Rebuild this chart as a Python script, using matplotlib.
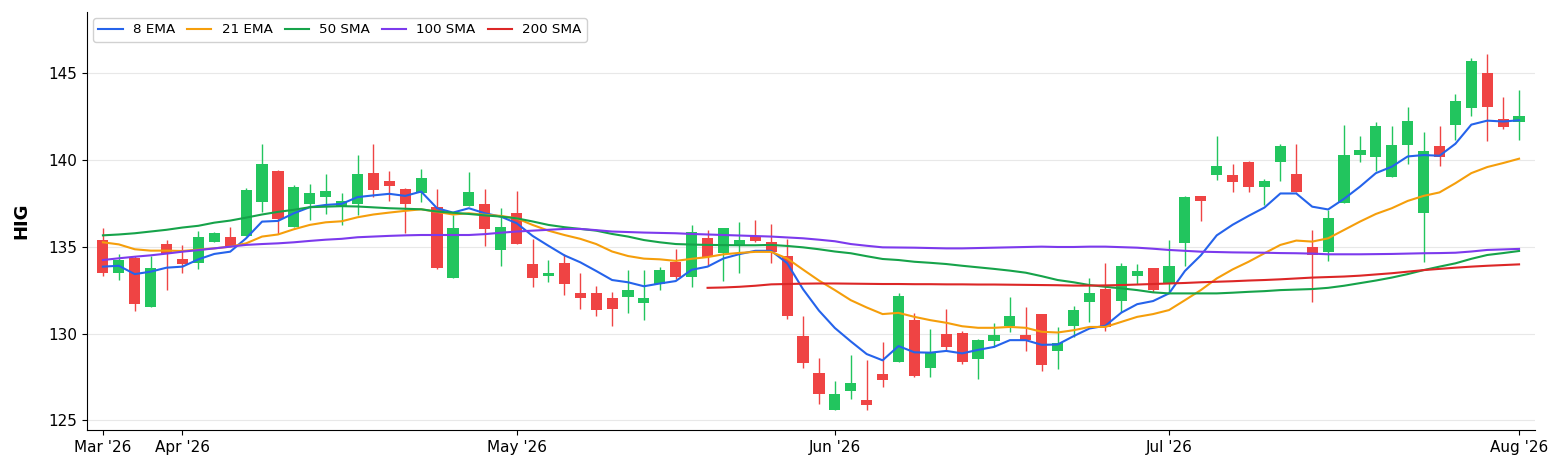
import pandas as pd
import matplotlib
matplotlib.use("Agg")
import matplotlib.pyplot as plt

ticker = "HIG"

opens = [135.38, 133.46, 134.33, 131.50, 135.13, 134.27, 134.04, 135.29, 135.54, 135.62,
         137.56, 139.37, 136.15, 137.44, 137.88, 137.35, 137.44, 139.23, 138.79, 138.30,
         138.08, 137.27, 133.17, 137.31, 137.44, 134.81, 136.92, 133.98, 133.31, 134.04,
         132.31, 132.31, 132.02, 132.08, 131.73, 132.85, 134.13, 133.23, 135.48, 134.62,
         135.10, 135.63, 135.29, 134.48, 129.85, 127.75, 125.58, 126.67, 126.19, 127.69,
         128.37, 130.77, 128.04, 129.96, 130.06, 128.56, 129.58, 130.44, 129.90, 131.10,
         129.00, 130.44, 131.83, 132.54, 131.88, 133.33, 133.75, 132.88, 135.19, 137.92,
         139.10, 139.10, 139.87, 138.46, 139.87, 139.19, 134.96, 134.71, 137.50, 140.25,
         140.15, 139.00, 140.83, 136.92, 140.81, 141.98, 142.98, 145.00, 142.35, 142.17]
highs = [136.06, 134.58, 134.46, 134.46, 135.38, 135.10, 135.92, 135.83, 136.15, 138.40,
         140.90, 139.42, 138.56, 138.60, 139.19, 138.10, 140.29, 140.92, 139.33, 138.37,
         139.48, 138.33, 136.83, 139.27, 138.33, 137.21, 138.23, 135.44, 134.23, 134.58,
         133.50, 132.73, 132.40, 133.65, 133.65, 133.85, 134.87, 136.25, 135.96, 136.06,
         136.44, 136.54, 136.29, 135.42, 131.00, 128.60, 127.25, 128.79, 128.50, 129.52,
         132.35, 131.21, 130.29, 131.44, 130.13, 129.67, 130.62, 132.08, 131.54, 131.10,
         130.38, 131.60, 133.17, 134.08, 134.04, 134.00, 133.75, 135.38, 137.92, 137.92,
         141.35, 139.77, 139.94, 138.88, 140.90, 140.90, 135.96, 137.08, 142.02, 141.35,
         142.15, 141.96, 143.02, 141.58, 141.92, 143.79, 145.83, 146.10, 143.60, 144.00]
lows = [133.30, 133.10, 131.31, 131.50, 132.50, 133.50, 133.70, 135.29, 135.06, 135.62,
        137.00, 135.71, 136.15, 136.54, 136.90, 136.25, 136.83, 137.88, 137.60, 135.81,
        137.54, 133.71, 133.17, 137.31, 135.04, 133.90, 135.13, 132.69, 132.98, 132.21,
        131.44, 131.00, 130.42, 131.19, 130.80, 132.50, 133.12, 132.69, 133.88, 133.04,
        133.50, 135.29, 134.04, 130.81, 128.04, 125.96, 125.58, 126.21, 125.58, 126.92,
        128.37, 127.50, 127.50, 129.08, 128.23, 127.37, 129.23, 130.10, 128.98, 127.83,
        127.94, 129.81, 130.67, 130.15, 131.25, 132.85, 132.40, 132.40, 133.88, 136.48,
        138.85, 138.12, 138.17, 137.40, 138.75, 138.13, 131.83, 134.19, 137.50, 139.85,
        139.33, 139.00, 139.77, 134.13, 139.65, 141.15, 142.50, 141.06, 141.77, 141.12]
closes = [133.46, 134.23, 131.69, 133.80, 134.58, 133.98, 135.54, 135.77, 135.06, 138.27,
          139.77, 136.58, 138.42, 138.08, 138.21, 137.63, 139.17, 138.27, 138.50, 137.44,
          138.94, 133.79, 136.06, 138.13, 136.00, 136.15, 135.13, 133.17, 133.50, 132.83,
          132.02, 131.38, 131.44, 132.50, 132.02, 133.65, 133.27, 135.87, 134.42, 136.06,
          135.38, 135.35, 134.71, 131.02, 128.31, 126.54, 126.54, 127.17, 125.90, 127.31,
          132.15, 127.56, 128.90, 129.23, 128.37, 129.62, 129.90, 131.00, 129.62, 128.21,
          129.46, 131.35, 132.31, 130.38, 133.88, 133.62, 132.50, 133.88, 137.85, 137.63,
          139.62, 138.71, 138.46, 138.79, 140.81, 138.13, 134.52, 136.63, 140.29, 140.58,
          141.96, 140.87, 142.21, 140.52, 140.15, 143.40, 145.71, 143.04, 141.88, 142.54]

ema8 = [133.85, 133.90, 133.42, 133.56, 133.79, 133.85, 134.27, 134.58, 134.71, 135.48,
        136.44, 136.48, 136.92, 137.27, 137.40, 137.46, 137.85, 137.95, 138.04, 137.92,
        138.17, 137.21, 136.96, 137.21, 136.92, 136.73, 136.35, 135.62, 135.05, 134.50,
        134.10, 133.60, 133.08, 132.95, 132.72, 132.88, 133.02, 133.67, 133.85, 134.32,
        134.57, 134.76, 134.76, 134.05, 132.55, 131.32, 130.32, 129.55, 128.82, 128.46,
        129.28, 128.92, 128.90, 129.00, 128.86, 129.06, 129.23, 129.62, 129.62, 129.35,
        129.37, 129.85, 130.29, 130.45, 131.20, 131.69, 131.87, 132.31, 133.60, 134.50,
        135.65, 136.26, 136.77, 137.25, 138.06, 138.06, 137.30, 137.14, 137.75, 138.45,
        139.23, 139.60, 140.19, 140.27, 140.23, 140.92, 142.02, 142.25, 142.20, 142.27]
ema21 = [135.25, 135.13, 134.85, 134.77, 134.77, 134.75, 134.83, 134.90, 135.00, 135.19,
         135.58, 135.70, 136.00, 136.25, 136.40, 136.46, 136.69, 136.85, 136.96, 137.06,
         137.15, 137.00, 136.85, 136.92, 136.83, 136.77, 136.63, 136.25, 135.92, 135.67,
         135.45, 135.15, 134.72, 134.46, 134.31, 134.27, 134.18, 134.30, 134.40, 134.56,
         134.64, 134.70, 134.70, 134.32, 133.68, 133.05, 132.50, 131.92, 131.50, 131.12,
         131.19, 130.96, 130.77, 130.62, 130.42, 130.33, 130.33, 130.38, 130.33, 130.10,
         130.06, 130.19, 130.38, 130.38, 130.67, 130.96, 131.12, 131.35, 131.92, 132.50,
         133.17, 133.69, 134.13, 134.62, 135.10, 135.35, 135.29, 135.48, 135.96, 136.44,
         136.88, 137.21, 137.63, 137.92, 138.12, 138.65, 139.23, 139.58, 139.81, 140.06]
sma50 = [135.65, 135.70, 135.77, 135.87, 135.97, 136.10, 136.20, 136.38, 136.50, 136.67,
         136.85, 137.00, 137.12, 137.27, 137.30, 137.33, 137.31, 137.26, 137.21, 137.18,
         137.15, 137.02, 136.95, 136.88, 136.80, 136.73, 136.63, 136.45, 136.25, 136.12,
         136.02, 135.92, 135.73, 135.58, 135.38, 135.25, 135.15, 135.12, 135.10, 135.09,
         135.08, 135.08, 135.10, 135.04, 134.96, 134.85, 134.72, 134.62, 134.45, 134.29,
         134.23, 134.13, 134.07, 134.00, 133.90, 133.81, 133.72, 133.62, 133.50, 133.30,
         133.08, 132.95, 132.79, 132.69, 132.60, 132.50, 132.37, 132.31, 132.31, 132.31,
         132.31, 132.35, 132.40, 132.44, 132.50, 132.53, 132.56, 132.63, 132.75, 132.90,
         133.05, 133.22, 133.42, 133.65, 133.85, 134.04, 134.30, 134.52, 134.63, 134.75]
sma100 = [134.23, 134.33, 134.42, 134.50, 134.60, 134.71, 134.80, 134.90, 135.00, 135.10,
          135.15, 135.19, 135.25, 135.33, 135.40, 135.45, 135.54, 135.58, 135.62, 135.65,
          135.67, 135.67, 135.67, 135.67, 135.72, 135.80, 135.87, 135.92, 135.97, 136.02,
          136.02, 135.95, 135.87, 135.84, 135.81, 135.79, 135.77, 135.73, 135.70, 135.67,
          135.64, 135.61, 135.58, 135.53, 135.48, 135.40, 135.31, 135.15, 135.05, 134.96,
          134.95, 134.94, 134.92, 134.90, 134.90, 134.92, 134.94, 134.96, 134.98, 135.00,
          134.98, 134.98, 135.00, 135.00, 134.97, 134.94, 134.88, 134.81, 134.76, 134.71,
          134.69, 134.67, 134.66, 134.65, 134.63, 134.62, 134.60, 134.56, 134.56, 134.56,
          134.57, 134.58, 134.60, 134.62, 134.63, 134.65, 134.72, 134.81, 134.84, 134.87]
sma200 = [None] * 38 + [
          132.63, 132.65, 132.69, 132.75, 132.83, 132.85, 132.87, 132.88, 132.88, 132.87,
          132.86, 132.85, 132.85, 132.84, 132.84, 132.83, 132.83, 132.82, 132.82, 132.81,
          132.80, 132.79, 132.78, 132.76, 132.76, 132.77, 132.79, 132.82, 132.85, 132.88,
          132.91, 132.95, 132.98, 133.01, 133.05, 133.08, 133.12, 133.17, 133.22, 133.25,
          133.28, 133.33, 133.40, 133.47, 133.56, 133.65, 133.72, 133.79, 133.85, 133.90,
          133.94, 133.98]

holidays = ["2026-04-03", "2026-05-25", "2026-06-19", "2026-07-03"]
dates = pd.bdate_range("2026-03-25", periods=len(closes), freq="C", holidays=holidays)

df = pd.DataFrame({"open": opens, "high": highs, "low": lows, "close": closes,
                   "ema8": ema8, "ema21": ema21, "sma50": sma50, "sma100": sma100,
                   "sma200": pd.array(sma200, dtype="Float64")}, index=dates)
df["sma200"] = df["sma200"].astype(float)
x = list(range(len(df)))

up_col = "#22c55e"
down_col = "#ef4444"
colors = [up_col if c >= o else down_col for o, c in zip(df["open"], df["close"])]

fig = plt.figure(figsize=(15.62, 4.73), dpi=100)
ax = fig.add_axes([0.0557, 0.0909, 0.927, 0.8837])

# wicks then bodies
ax.vlines(x, df["low"], df["high"], colors=colors, linewidth=1.0, zorder=2)
bottoms = [min(o, c) for o, c in zip(df["open"], df["close"])]
heights = [max(abs(c - o), 0.06) for o, c in zip(df["open"], df["close"])]
ax.bar(x, heights, bottom=bottoms, width=0.7, color=colors, zorder=3)

lines = [("ema8", "8 EMA", "#2563eb"), ("ema21", "21 EMA", "#f59e0b"),
         ("sma50", "50 SMA", "#16a34a"), ("sma100", "100 SMA", "#7c3aed"),
         ("sma200", "200 SMA", "#dc2626")]
for col, label, c in lines:
    ax.plot(x, df[col], color=c, linewidth=1.5, label=label, zorder=4)

ax.set_xlim(-1, len(df))
ax.set_ylim(124.45, 148.5)
ax.set_yticks([125, 130, 135, 140, 145])
ax.grid(axis="y", color="#e8e8e8", linewidth=0.8)
ax.set_axisbelow(True)

months = df.index.to_period("M")
tick_pos = [i for i in x if i == 0 or months[i] != months[i - 1]]
ax.set_xticks(tick_pos)
ax.set_xticklabels([df.index[i].strftime("%b '%y") for i in tick_pos])
ax.tick_params(labelsize=11)

ax.spines["top"].set_visible(False)
ax.spines["right"].set_visible(False)
ax.set_ylabel(ticker, fontsize=13, fontweight="bold", labelpad=13)

ax.legend(loc="upper left", ncol=5, fontsize=9.7, handlelength=1.8, handletextpad=0.75,
          columnspacing=0.9, borderaxespad=0.45, edgecolor="#cccccc", framealpha=0.9)

fig.savefig("out.png", dpi=100)
